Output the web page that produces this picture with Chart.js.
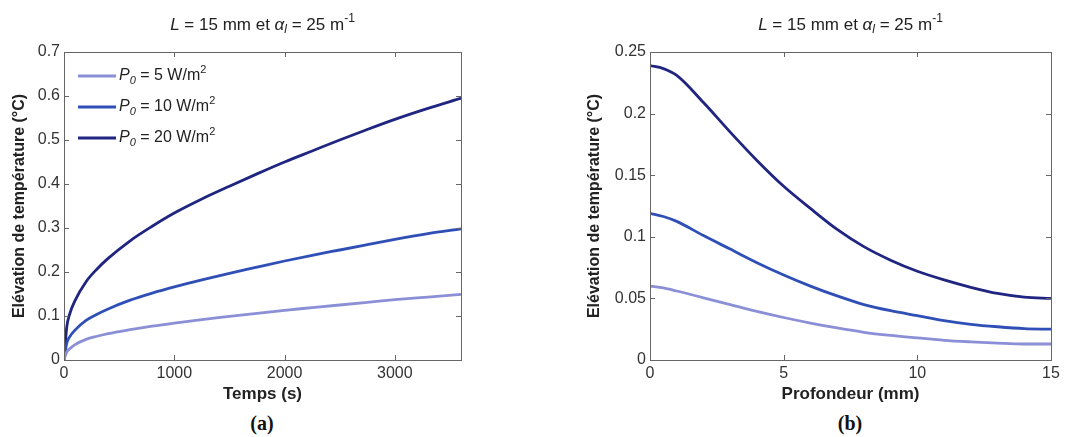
<!DOCTYPE html>
<html>
<head>
<meta charset="utf-8">
<script src="https://cdn.jsdelivr.net/npm/chart.js@4/dist/chart.umd.min.js"></script>
<style>
  html, body { margin: 0; padding: 0; background: #fff; }
  #wrap { position: relative; width: 1076px; height: 437px; overflow: hidden; }
  canvas { position: absolute; top: 0; }
  .cap { position: absolute; top: 412px; font: bold 20px "Liberation Serif", "Times New Roman", serif; color: #111; transform: translateX(-50%); }
</style>
</head>
<body>
<div id="wrap">
  <canvas id="chartA" width="540" height="410" style="left:0"></canvas>
  <canvas id="chartB" width="536" height="410" style="left:540px"></canvas>
  <div class="cap" style="left:262px">(a)</div>
  <div class="cap" style="left:850px">(b)</div>
</div>
<script>
// =====================================================
// DONNÉES
// =====================================================

const legendPower = ['5', '10', '20']
const lineColors  = ['#8b8fd6', '#2f4fb6', '#1f2580']

// (a) élévation en fonction du temps
const timeS    = [0, 25, 50, 100, 200, 300, 400, 600, 800, 1000, 1250, 1500, 1750, 2000, 2250, 2500, 2750, 3000, 3300, 3600]
const p5Time   = [0, 0.018, 0.025, 0.035, 0.047, 0.054, 0.060, 0.069, 0.077, 0.084, 0.092, 0.099, 0.106, 0.113, 0.119, 0.125, 0.131, 0.137, 0.143, 0.149]
const p10Time  = [0, 0.038, 0.052, 0.068, 0.090, 0.104, 0.116, 0.136, 0.152, 0.166, 0.182, 0.197, 0.211, 0.225, 0.238, 0.250, 0.262, 0.274, 0.287, 0.298]
const p20Time  = [0, 0.075, 0.103, 0.135, 0.178, 0.207, 0.231, 0.271, 0.304, 0.334, 0.366, 0.395, 0.423, 0.450, 0.475, 0.500, 0.524, 0.547, 0.572, 0.595]
const timeTicks = [0, 1000, 2000, 3000]
const tempTicksA = [0, 0.1, 0.2, 0.3, 0.4, 0.5, 0.6, 0.7]

// (b) élévation en fonction de la profondeur
const depthMm  = [0, 0.5, 1, 2, 3, 4, 5, 6, 7, 8, 9, 10, 11, 12, 13, 14, 15]
const p5Depth  = [0.060, 0.0585, 0.056, 0.0505, 0.045, 0.0395, 0.0345, 0.030, 0.026, 0.0225, 0.020, 0.018, 0.016, 0.0147, 0.0137, 0.013, 0.013]
const p10Depth = [0.119, 0.1165, 0.1125, 0.101, 0.090, 0.079, 0.069, 0.060, 0.052, 0.045, 0.040, 0.036, 0.032, 0.029, 0.027, 0.0255, 0.025]
const p20Depth = [0.239, 0.2365, 0.231, 0.209, 0.185, 0.162, 0.141, 0.123, 0.106, 0.092, 0.081, 0.072, 0.065, 0.059, 0.054, 0.051, 0.050]
const depthTicks = [0, 5, 10, 15]
const tempTicksB = [0, 0.05, 0.1, 0.15, 0.2, 0.25]

// =====================================================
// TEXTE MIXTE (italique, indice, exposant)
// =====================================================

const FONT = 'Arial, "Liberation Sans", sans-serif'

function drawRich(ctx, segs, x, y, size, measureOnly) {
  let cx = x
  segs.forEach(s => {
    const small = s.sub || s.sup
    const fs = small ? Math.round(size * 0.7) : size
    ctx.font = `${s.i ? 'italic ' : ''}${fs}px ${FONT}`
    const dy = s.sub ? size * 0.3 : s.sup ? -size * 0.4 : 0
    if (!measureOnly) ctx.fillText(s.t, cx, y + dy)
    cx += ctx.measureText(s.t).width
  })
  return cx - x
}

const titleSegs = [
  { t: 'L', i: true }, { t: ' = 15 mm et ' },
  { t: 'α', i: true }, { t: 'l', i: true, sub: true },
  { t: ' = 25 m' }, { t: '-1', sup: true }
]

const legendSegs = p => [
  { t: 'P', i: true }, { t: '0', i: true, sub: true },
  { t: ` = ${p} W/m` }, { t: '2', sup: true }
]

// =====================================================
// PLUGIN CADRE + TITRE + LÉGENDE
// =====================================================

const cadre = {
  id: 'cadre',
  afterDraw(chart, args, opts) {
    const { ctx, chartArea: a, scales: { x, y } } = chart
    ctx.save()
    ctx.strokeStyle = '#666'
    ctx.lineWidth = 1
    ctx.strokeRect(a.left + 0.5, a.top + 0.5, a.right - a.left, a.bottom - a.top)
    ctx.beginPath()
    x.ticks.forEach(t => {
      const px = Math.round(x.getPixelForValue(t.value)) + 0.5
      ctx.moveTo(px, a.bottom); ctx.lineTo(px, a.bottom - 5)
      ctx.moveTo(px, a.top);    ctx.lineTo(px, a.top + 5)
    })
    y.ticks.forEach(t => {
      const py = Math.round(y.getPixelForValue(t.value)) + 0.5
      ctx.moveTo(a.left, py);  ctx.lineTo(a.left + 5, py)
      ctx.moveTo(a.right, py); ctx.lineTo(a.right - 5, py)
    })
    ctx.stroke()

    // titre
    ctx.fillStyle = '#222'
    ctx.textBaseline = 'middle'
    const tw = drawRich(ctx, titleSegs, 0, 0, 17, true)
    drawRich(ctx, titleSegs, (a.left + a.right) / 2 - tw / 2, 25, 17)

    // légende
    chart.data.datasets.forEach((ds, i) => {
      const ly = opts.legendY + i * 31
      ctx.strokeStyle = ds.borderColor
      ctx.lineWidth = 3
      ctx.beginPath()
      ctx.moveTo(opts.legendX, ly); ctx.lineTo(opts.legendX + 38, ly)
      ctx.stroke()
      ctx.fillStyle = '#222'
      drawRich(ctx, legendSegs(legendPower[i]), opts.legendX + 41, ly, 16)
    })
    ctx.restore()
  }
}

// =====================================================
// GRAPHIQUES
// =====================================================

function makeChart(id, xs, series, xTicks, yTicks, xMax, yMax, xTitle, pad, yWidth, yTitlePad, legendX) {
  return new Chart(document.getElementById(id).getContext('2d'), {
    type: 'line',
    data: {
      datasets: series.map((vals, i) => ({
        label: legendPower[i],
        data: xs.map((v, k) => ({ x: v, y: vals[k] })),
        borderColor: lineColors[i],
        borderWidth: 2.8,
        pointRadius: 0,
        fill: false,
        cubicInterpolationMode: 'monotone'
      }))
    },
    plugins: [cadre],
    options: {
      responsive: false,
      animation: false,
      layout: { padding: { left: pad.left, right: pad.right, top: 52, bottom: 0 } },
      plugins: {
        legend: { display: false },
        tooltip: { enabled: false },
        cadre: { legendX, legendY: 76 }
      },
      scales: {
        x: {
          type: 'linear', min: 0, max: xMax,
          afterBuildTicks: s => { s.ticks = xTicks.map(v => ({ value: v })) },
          afterFit: s => { s.height = 50 },
          grid: { display: false, drawTicks: false },
          border: { display: false },
          ticks: { padding: 4, color: '#333', font: { family: FONT, size: 16 }, maxRotation: 0,
                   callback: v => String(v) },
          title: { display: true, text: xTitle, color: '#222', padding: { top: 0, bottom: 5 },
                   font: { family: FONT, size: 17, weight: 'bold' } }
        },
        y: {
          type: 'linear', min: 0, max: yMax,
          afterBuildTicks: s => { s.ticks = yTicks.map(v => ({ value: v })) },
          afterFit: s => { s.width = yWidth },
          grid: { display: false, drawTicks: false },
          border: { display: false },
          ticks: { padding: 4, color: '#333', font: { family: FONT, size: 16 },
                   callback: v => String(+v.toFixed(2)) },
          title: { display: true, text: 'Elévation de température (°C)', color: '#222',
                   padding: { top: yTitlePad, bottom: 0 },
                   font: { family: FONT, size: 16, weight: 'bold' } }
        }
      }
    }
  })
}

makeChart('chartA', timeS, [p5Time, p10Time, p20Time], timeTicks, tempTicksA, 3600, 0.7,
  'Temps (s)', { left: 4, right: 79 }, 60, 6, 78)

makeChart('chartB', depthMm, [p5Depth, p10Depth, p20Depth], depthTicks, tempTicksB, 15, 0.25,
  'Profondeur (mm)', { left: 40, right: 25 }, 70, 5, 895)
</script>
</body>
</html>
